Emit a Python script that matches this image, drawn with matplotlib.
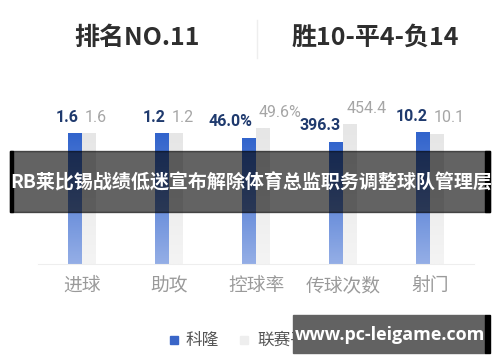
import matplotlib
import matplotlib.pyplot as plt
import numpy as np
from matplotlib.patches import Rectangle

matplotlib.use('Agg')

plt.rcParams['font.family'] = ['Noto Sans CJK SC', 'DejaVu Sans']

categories = ['进球', '助攻', '控球率', '传球次数', '射门']
team_vals = [1.6, 1.2, 46.0, 396.3, 10.2]
league_vals = [1.6, 1.2, 49.6, 454.4, 10.1]
team_labels = ['1.6', '1.2', '46.0%', '396.3', '10.2']
league_labels = ['1.6', '1.2', '49.6%', '454.4', '10.1']
series_names = ['科隆', '联赛平均值']
header_left = '排名NO.11'
header_right = '胜10-平4-负14'
banner_text = 'RB莱比锡战绩低迷宣布解除体育总监职务调整球队管理层'
watermark = 'www.pc-leigame.com'


def gradient_fill(ax, patch, top_color, bottom_color):
    x0, y0 = patch.get_x(), patch.get_y()
    w, h = patch.get_width(), patch.get_height()
    top = np.array(matplotlib.colors.to_rgb(top_color))
    bot = np.array(matplotlib.colors.to_rgb(bottom_color))
    t = np.linspace(0, 1, 64)[:, None]
    img = (top * (1 - t) + bot * t)[:, None, :]
    im = ax.imshow(img, extent=(x0, x0 + w, y0, y0 + h), aspect='auto',
                   origin='upper', zorder=2)
    im.set_clip_path(patch)
    patch.set_alpha(0)


fig = plt.figure(figsize=(5, 3.62), dpi=100)
ax = fig.add_axes([0.076, 0.2707, 0.872, 0.453])

team = np.array(team_vals)
league = np.array(league_vals)
total = team + league
team_share = team / total
league_share = league / total

x = np.arange(len(categories))
width = 0.16
b1 = ax.bar(x - width / 2, team_share, width, color='#3366cc', zorder=2)
b2 = ax.bar(x + width / 2, league_share, width, color='#ececec', zorder=2)
for p in b1:
    gradient_fill(ax, p, '#3264cc', '#94aee6')
for p in b2:
    gradient_fill(ax, p, '#e6e6e6', '#f4f4f4')

for i in range(len(categories)):
    ax.annotate(team_labels[i], (x[i] - 0.035, team_share[i]), xytext=(0, 11.5),
                textcoords='offset points', ha='right', va='center',
                fontsize=11.5, fontweight='bold', color='#1f3a6e',
                family='Roboto')
    ax.annotate(league_labels[i], (x[i] + 0.035, league_share[i]), xytext=(0, 11.5),
                textcoords='offset points', ha='left', va='center',
                fontsize=11.5, color='#a6a6a6', family='Roboto')

ax.set_xlim(-0.5, 4.5)
ax.set_ylim(0, 164 / 262)
ax.set_xticks(x, categories)
ax.tick_params(axis='x', length=0, pad=8, labelsize=13.5, labelcolor='#9a9a9a')
ax.set_yticks([])
for s in ['top', 'left', 'right']:
    ax.spines[s].set_visible(False)
ax.spines['bottom'].set_color('#eeeeee')

# header
fig.text(137 / 500, 1 - 38 / 362, header_left, ha='center', va='center',
         fontsize=18, fontweight='bold', color='#2e2e2e')
fig.text(375 / 500, 1 - 38 / 362, header_right, ha='center', va='center',
         fontsize=18, fontweight='bold', color='#2e2e2e')
fig.add_artist(plt.Line2D([257 / 500, 257 / 500], [1 - 20 / 362, 1 - 58 / 362],
                          color='#eeeeee', lw=1))

# legend
fig.add_artist(Rectangle((170 / 500, 1 - 344 / 362), 8 / 500, 8 / 362,
                         color='#3a66c8', transform=fig.transFigure))
fig.text(186 / 500, 1 - 340 / 362, series_names[0], ha='left', va='center',
         fontsize=12, color='#555555')
fig.add_artist(Rectangle((240 / 500, 1 - 344 / 362), 8 / 500, 8 / 362,
                         color='#eeeeee', transform=fig.transFigure))
fig.text(257 / 500, 1 - 340 / 362, series_names[1], ha='left', va='center',
         fontsize=12, color='#555555')

# overlay banner
fig.add_artist(Rectangle((10 / 500, 1 - 212 / 362), 480 / 500, 61 / 362,
                         color='black', alpha=0.61, transform=fig.transFigure, zorder=5))
fig.add_artist(Rectangle((10 / 500, 1 - 212 / 362), 3 / 500, 61 / 362,
                         color='black', transform=fig.transFigure, zorder=5))
fig.add_artist(Rectangle((485 / 500, 1 - 212 / 362), 5 / 500, 61 / 362,
                         color='black', transform=fig.transFigure, zorder=5))
fig.text(251 / 500, 1 - 183 / 362, banner_text, ha='center', va='center',
         fontsize=13.7, fontweight='bold', color='white', zorder=6)

# watermark
fig.add_artist(Rectangle((293 / 500, 1 - 353 / 362), 192 / 500, 38 / 362,
                         color='#626262', transform=fig.transFigure, zorder=5))
fig.add_artist(Rectangle((485 / 500, 1 - 353 / 362), 5 / 500, 38 / 362,
                         color='black', transform=fig.transFigure, zorder=5))
fig.text(390 / 500, 1 - 335 / 362, watermark, ha='center', va='center',
         fontsize=13, fontweight='bold', color='white', zorder=6,
         family=['Open Sans', 'DejaVu Sans'])

fig.savefig('out.png', dpi=100)
